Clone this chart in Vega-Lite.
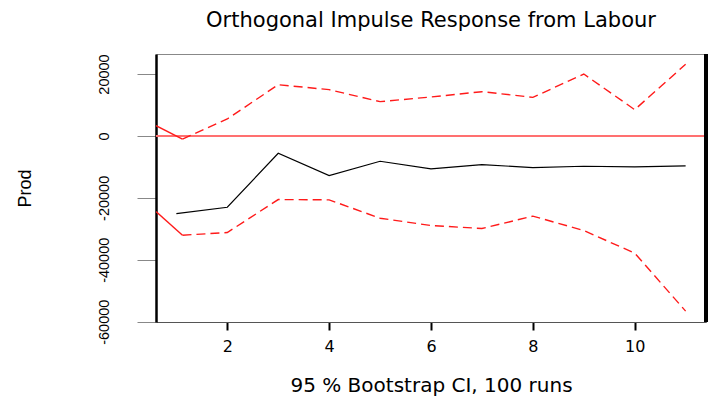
{
  "$schema": "https://vega.github.io/schema/vega-lite/v6.json",
  "width": 550,
  "height": 268,
  "autosize": "none",
  "padding": {"left": 156, "top": 54, "right": 19, "bottom": 76},
  "background": "white",
  "title": {
    "text": "Orthogonal Impulse Response from Labour",
    "font": "DejaVu Sans",
    "fontSize": 21,
    "fontWeight": "normal",
    "color": "black",
    "anchor": "middle",
    "frame": "group",
    "offset": 22
  },
  "config": {
    "view": {"stroke": "#888", "strokeWidth": 1},
    "axis": {"grid": false}
  },
  "data": {
    "values": [
      {"h": 1, "value": -25070, "series": "irf"},
      {"h": 2, "value": -23030, "series": "irf"},
      {"h": 3, "value": -5610, "series": "irf"},
      {"h": 4, "value": -12810, "series": "irf"},
      {"h": 5, "value": -8190, "series": "irf"},
      {"h": 6, "value": -10650, "series": "irf"},
      {"h": 7, "value": -9260, "series": "irf"},
      {"h": 8, "value": -10230, "series": "irf"},
      {"h": 9, "value": -9800, "series": "irf"},
      {"h": 10, "value": -10000, "series": "irf"},
      {"h": 11, "value": -9680, "series": "irf"},
      {"h": 1.12, "value": -1030, "series": "upper"},
      {"h": 2, "value": 5480, "series": "upper"},
      {"h": 3, "value": 16550, "series": "upper"},
      {"h": 4, "value": 14940, "series": "upper"},
      {"h": 5, "value": 11070, "series": "upper"},
      {"h": 6, "value": 12580, "series": "upper"},
      {"h": 7, "value": 14290, "series": "upper"},
      {"h": 8, "value": 12450, "series": "upper"},
      {"h": 9, "value": 20000, "series": "upper"},
      {"h": 10, "value": 8480, "series": "upper"},
      {"h": 11, "value": 23150, "series": "upper"},
      {"h": 1.12, "value": -32070, "series": "lower"},
      {"h": 2, "value": -31200, "series": "lower"},
      {"h": 3, "value": -20550, "series": "lower"},
      {"h": 4, "value": -20650, "series": "lower"},
      {"h": 5, "value": -26580, "series": "lower"},
      {"h": 6, "value": -28940, "series": "lower"},
      {"h": 7, "value": -29900, "series": "lower"},
      {"h": 8, "value": -25900, "series": "lower"},
      {"h": 9, "value": -30550, "series": "lower"},
      {"h": 10, "value": -37870, "series": "lower"},
      {"h": 11, "value": -56580, "series": "lower"},
      {"h": 0.6, "value": 3320, "series": "upper_start"},
      {"h": 1.12, "value": -1030, "series": "upper_start"},
      {"h": 0.6, "value": -24420, "series": "lower_start"},
      {"h": 1.12, "value": -32070, "series": "lower_start"}
    ]
  },
  "encoding": {
    "x": {
      "field": "h",
      "type": "quantitative",
      "scale": {"domain": [0.6, 11.4], "nice": false, "zero": false},
      "axis": {
        "values": [2, 4, 6, 8, 10],
        "title": "95 % Bootstrap CI,  100 runs",
        "titleFont": "DejaVu Sans",
        "titleFontSize": 20,
        "titleFontWeight": "normal",
        "titleColor": "black",
        "titlePadding": 21,
        "labelFont": "DejaVu Sans",
        "labelFontSize": 16,
        "labelColor": "black",
        "labelPadding": 8,
        "labelFlush": false,
        "labelOverlap": false,
        "tickColor": "black",
        "tickWidth": 2,
        "tickSize": 8,
        "domainColor": "#555",
        "domainWidth": 1.2
      }
    },
    "y": {
      "field": "value",
      "type": "quantitative",
      "scale": {"domain": [-60100, 26460], "nice": false, "zero": false},
      "axis": {
        "values": [-60000, -40000, -20000, 0, 20000],
        "labelExpr": "toString(datum.value)",
        "title": "Prod",
        "titleFont": "Liberation Sans",
        "titleFontSize": 18,
        "titleFontWeight": "normal",
        "titleColor": "black",
        "titlePadding": 62,
        "labelFont": "Liberation Sans",
        "labelFontSize": 14.5,
        "labelColor": "black",
        "labelAngle": 270,
        "labelAlign": "center",
        "labelBaseline": "bottom",
        "labelPadding": 26,
        "labelFlush": false,
        "labelOverlap": false,
        "tickColor": "#888",
        "tickWidth": 1,
        "tickSize": 19,
        "domainColor": "black",
        "domainWidth": 2.5
      }
    }
  },
  "layer": [
    {
      "mark": {"type": "rule", "color": "#ff7070", "strokeWidth": 1.5},
      "encoding": {"y": {"datum": 0}, "x": {}}
    },
    {
      "transform": [{"filter": "datum.series === 'irf'"}],
      "mark": {"type": "line", "color": "black", "strokeWidth": 1.2},
      "encoding": {"order": {"field": "h", "type": "quantitative"}}
    },
    {
      "transform": [{"filter": "datum.series === 'upper' || datum.series === 'lower'"}],
      "mark": {"type": "line", "color": "#ff1a1a", "strokeWidth": 1.4, "strokeDash": [9, 5], "clip": true},
      "encoding": {"detail": {"field": "series"}, "order": {"field": "h", "type": "quantitative"}}
    },
    {
      "transform": [{"filter": "datum.series === 'upper_start' || datum.series === 'lower_start'"}],
      "mark": {"type": "line", "color": "#ff1a1a", "strokeWidth": 1.4, "clip": true},
      "encoding": {"detail": {"field": "series"}, "order": {"field": "h", "type": "quantitative"}}
    },
    {
      "mark": {"type": "rule", "color": "black", "strokeWidth": 2.5},
      "encoding": {"x": {"datum": 11.4}, "y": {}}
    }
  ]
}
